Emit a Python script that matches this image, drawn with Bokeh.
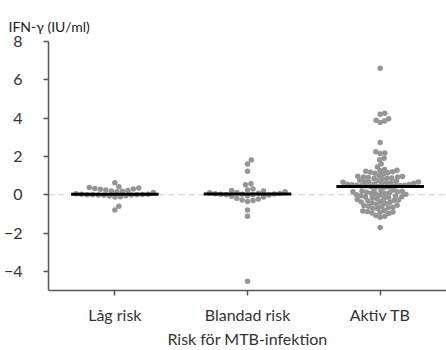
import numpy as np
from bokeh.plotting import figure
from bokeh.models import Range1d, FixedTicker, Span, Title
from bokeh.embed import file_html
from bokeh.resources import INLINE

# ---------------- data ----------------
categories = ["Låg risk", "Blandad risk", "Aktiv TB"]
cat_pos = [1, 2, 3]

lag_risk = [0.62, 0.42, 0.38, 0.35, 0.32, 0.30, 0.28, 0.25, 0.22, 0.20, 0.18,
            0.15, 0.12, 0.05, 0.03, 0.02, 0.01, 0.00, 0.00, 0.00, -0.01, -0.02,
            -0.03, -0.05, -0.07, -0.10, -0.12, -0.60, -0.80]

blandad_risk = [1.81, 1.60, 1.23, 0.57, 0.52, 0.30, 0.25, 0.22, 0.20, 0.15,
                0.12, 0.10, 0.08, 0.06, 0.05, 0.04, 0.03, 0.02, 0.00, 0.00,
                -0.02, -0.05, -0.08, -0.12, -0.18, -0.22, -0.28, -0.30, -0.35,
                -0.80, -1.12, -4.52]

aktiv_tb = [6.60,
            4.25, 4.20, 3.97, 3.89, 3.85, 3.77,
            2.73,
            2.24, 2.18, 2.15,
            1.90, 1.83, 1.60,
            1.45,
            1.32, 1.28, 1.25, 1.22, 1.20, 1.18, 1.15, 1.12, 1.08,
            1.00, 0.97, 0.95, 0.93, 0.92, 0.90, 0.88, 0.86, 0.85, 0.83,
            0.75, 0.73, 0.70, 0.68, 0.67, 0.66, 0.65, 0.63, 0.62, 0.60, 0.58, 0.56,
            0.55, 0.53, 0.52, 0.50, 0.49, 0.48, 0.47, 0.46, 0.45, 0.43, 0.42, 0.40, 0.38,
            0.28, 0.25, 0.22, 0.20, 0.18, 0.16, 0.15, 0.13, 0.10, 0.08, 0.06, 0.05,
            0.02, 0.00, -0.02, -0.05, -0.07, -0.10, -0.12, -0.14, -0.16, -0.18, -0.20,
            -0.25, -0.28, -0.30, -0.33, -0.35, -0.38, -0.40, -0.42, -0.45, -0.48,
            -0.55, -0.58, -0.60, -0.62, -0.65, -0.68, -0.70, -0.72,
            -0.82, -0.85, -0.88, -0.90, -0.92, -0.95, -0.98,
            -1.08, -1.12, -1.18,
            -1.71]

groups = [lag_risk, blandad_risk, aktiv_tb]

x_label = "Risk för MTB-infektion"
y_title = "IFN-γ (IU/ml)"
y_ticks = [-4, -2, 0, 2, 4, 6, 8]

# ---------------- layout ----------------
W, H = 446, 350
LEFT, TOP, BOTTOM, RIGHT = 46, 41, 58, 0
X0, X1 = 0.5, 3.5
Y0, Y1 = -5.0, 8.0
px_x = (W - LEFT - RIGHT) / (X1 - X0)
px_y = (H - TOP - BOTTOM) / (Y1 - Y0)
FONT = "Lato"
SWARM_D = [5.6, 5.6, 4.7]   # collision diameter (px) per group


def swarm_offsets(vals, d):
    """Beeswarm layout: horizontal offsets (data units) so dots don't collide."""
    ys = np.asarray(vals, dtype=float) * px_y
    order = np.argsort(ys)
    placed = []
    xs = np.zeros(len(ys))
    for i in order:
        y = ys[i]
        cands = [0.0]
        for (qx, qy) in placed:
            dy = abs(qy - y)
            if dy < d:
                dx = np.sqrt(d * d - dy * dy)
                cands += [qx + dx, qx - dx]
        cands.sort(key=abs)
        for c in cands:
            if all((c - qx) ** 2 + (y - qy) ** 2 >= d * d - 1e-6 for qx, qy in placed):
                xs[i] = c
                break
        placed.append((xs[i], y))
    return xs / px_x


xs, ys = [], []
mx0, mx1, my = [], [], []
for pos, vals, d in zip(cat_pos, groups, SWARM_D):
    off = swarm_offsets(vals, d)
    xs += list(pos + off)
    ys += list(vals)
    med = float(np.median(vals))
    mx0.append(pos - 0.33)
    mx1.append(pos + 0.33)
    my.append(med)

p = figure(width=W, height=H, output_backend="svg", toolbar_location=None,
           x_range=Range1d(X0, X1), y_range=Range1d(Y0, Y1),
           min_border_left=LEFT, min_border_top=TOP, min_border_bottom=BOTTOM,
           min_border_right=RIGHT)
p.outline_line_color = None
p.grid.visible = False
p.background_fill_color = "white"
p.border_fill_color = "white"

p.title = Title(text=y_title, align="left", offset=-40, standoff=10,
                vertical_align="top",
                text_font=FONT, text_font_size="14px", text_font_style="normal",
                text_color="#222222")

zero = Span(location=0, dimension="width", line_color="#cccccc",
            line_dash="6 4", line_width=1, level="underlay")
p.add_layout(zero)

p.scatter(x=xs, y=ys, size=5.5, fill_color="#959595", line_color=None)
p.segment(x0=mx0, x1=mx1, y0=my, y1=my, line_color="black", line_width=3)

# axes
p.xaxis.ticker = FixedTicker(ticks=cat_pos)
p.xaxis.major_label_overrides = {pos: c for pos, c in zip(cat_pos, categories)}
p.xaxis.axis_label = x_label
p.yaxis.ticker = FixedTicker(ticks=y_ticks)
for ax in (p.xaxis[0], p.yaxis[0]):
    ax.axis_line_color = "#555555"
    ax.axis_line_width = 1.5
    ax.major_tick_line_color = "#555555"
    ax.major_tick_line_width = 1.5
    ax.major_tick_in = 0
    ax.major_tick_out = 5
    ax.minor_tick_line_color = None
    ax.major_label_text_font = FONT
    ax.major_label_text_font_size = "16px"
    ax.major_label_text_color = "#333333"
    ax.axis_label_text_font = FONT
    ax.axis_label_text_font_size = "16px"
    ax.axis_label_text_font_style = "normal"
    ax.axis_label_text_color = "#333333"
p.xaxis.major_label_standoff = 9
p.xaxis.axis_label_standoff = 2
p.yaxis[0].major_label_standoff = 21

open("out.html", "w").write(file_html(p, INLINE))
